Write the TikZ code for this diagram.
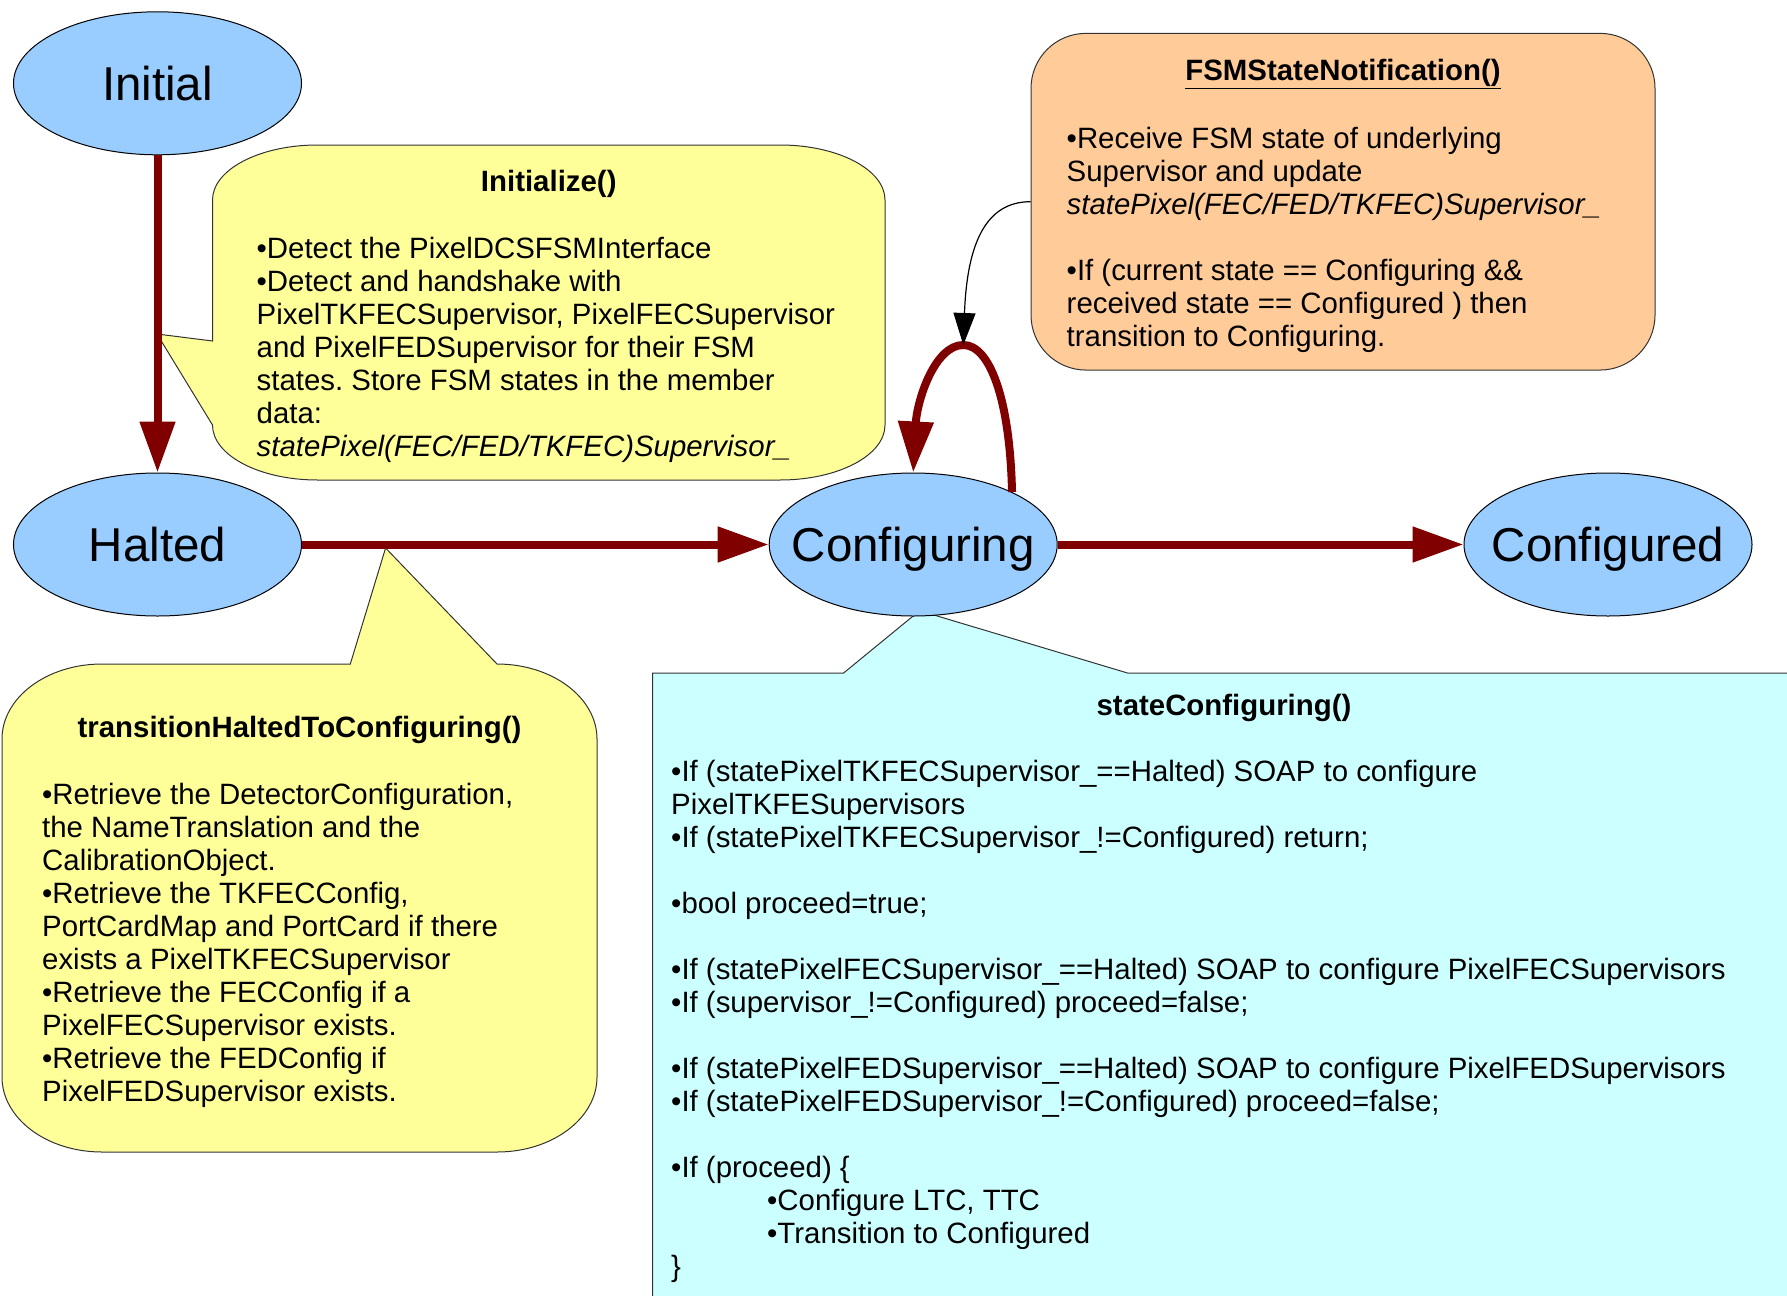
\documentclass[tikz,border=0pt]{standalone}
\usepackage{fontspec}
\setmainfont{Liberation Sans}[Ligatures=NoCommon]
\usetikzlibrary{shapes.geometric, arrows.meta}
\frenchspacing

\definecolor{stateblue}{HTML}{99CCFF}
\definecolor{noteyellow}{HTML}{FFFF99}
\definecolor{notepeach}{HTML}{FFCC99}
\definecolor{notecyan}{HTML}{CCFFFF}
\definecolor{transred}{HTML}{800000}

\newcommand{\bodysize}{\fontsize{29.4}{33}\selectfont}
\newcommand{\statesize}{\fontsize{47.5}{55}\selectfont}
\newcommand{\statename}[1]{\makebox[0pt]{\rule[-12pt]{0pt}{58pt}#1}}

\begin{document}
\begin{tikzpicture}[x=1pt, y=1pt,
    state/.style={ellipse, draw, line width=1pt, fill=stateblue, minimum width=288pt, minimum height=143pt, inner sep=0pt, font=\statesize},
    trans/.style={draw=transred, line width=8pt, -{Triangle[length=51pt,width=34pt]}},
    callout/.style={draw=black!80, line width=1pt},
    note/.style={draw=black, line width=1.2pt, -{Triangle[length=32pt,width=22pt]}},
    heading/.style={anchor=base, inner sep=0pt, font=\bodysize\bfseries},
    body/.style={anchor=north west, inner sep=0pt, align=left, font=\bodysize}]
    \useasboundingbox (0,0) rectangle (1787,-1295);

    % tips of the callouts
    \coordinate (tipinit) at (157,-334);
    \coordinate (tiptrans) at (385.6,-548);
    \coordinate (tipcfg) at (919.6,-610.7);
    \coordinate (looptop) at (963.3,-345);

    % callouts
    \draw[callout, fill=noteyellow] (212.5,-200) arc[start angle=180, end angle=90, x radius=105, y radius=55] -- (780,-145)
        arc[start angle=90, end angle=0, x radius=105, y radius=55] -- (885,-425)
        arc[start angle=0, end angle=-90, x radius=105, y radius=55] -- (317.5,-480)
        arc[start angle=270, end angle=180, x radius=105, y radius=55] -- (tipinit) -- (212.5,-341) -- cycle;
    \draw[callout, fill=noteyellow] (2,-739) arc[start angle=180, end angle=90, x radius=100, y radius=75] -- (350.3,-664) -- (tiptrans) -- (497,-664)
        arc[start angle=90, end angle=0, x radius=100, y radius=75] -- (597,-1077)
        arc[start angle=0, end angle=-90, x radius=100, y radius=75] -- (102,-1152)
        arc[start angle=270, end angle=180, x radius=100, y radius=75] -- cycle;
    \draw[callout, fill=notecyan] (652.5,-1310) -- (652.5,-673) -- (843.6,-673) -- (tipcfg) -- (1127.5,-673) -- (1800,-673) -- (1800,-1310) -- cycle;
    \node[callout, fill=notepeach, rounded corners=55pt, minimum width=624pt, minimum height=336.7pt] (notify) at (1343,-201.7) {};

    % states
    \node[state] (initial) at (157.5,-83.3) {\statename{Initial}};
    \node[state] (halted) at (157.5,-544.5) {\statename{Halted}};
    \node[state] (configuring) at (913.2,-544.5) {\statename{Configuring}};
    \node[state] (configured) at (1608,-544.5) {\statename{Configured}};

    % transitions
    \draw[trans] (initial) -- (halted);
    \draw[trans] (halted) -- (configuring);
    \draw[trans] (configuring) -- (configured);
    \draw[trans] (configuring.28) .. controls (1010,-400) and (990,-345) .. (looptop)
        .. controls (935,-345) and (917,-400) .. (configuring.north);

    % texts
    \node[heading] (initTitle) at (548.75,-191) {Initialize()};
    \node[body] (initBody) at (256.5,-237) {•Detect the PixelDCSFSMInterface\\
        •Detect and handshake with\\
        PixelTKFECSupervisor, PixelFECSupervisor\\
        and PixelFEDSupervisor for their FSM\\
        states. Store FSM states in the member\\
        data:\\
        \textit{statePixel(FEC/FED/TKFEC)Supervisor\_}};

    \node[heading] (notifyTitle) at (1343,-81) {\underline{FSMStateNotification()}};
    \node[body] (notifyBody) at (1066.5,-126.5) {•Receive FSM state of underlying\\
        Supervisor and update\\
        \textit{statePixel(FEC/FED/TKFEC)Supervisor\_}\\[33pt]
        •If (current state == Configuring \&\&\\
        received state == Configured ) then\\
        transition to Configuring.};

    \node[heading] (transTitle) at (299.5,-737) {transitionHaltedToConfiguring()};
    \node[body] (transBody) at (42,-783) {•Retrieve the DetectorConfiguration,\\
        the NameTranslation and the\\
        CalibrationObject.\\
        •Retrieve the TKFECConfig,\\
        PortCardMap and PortCard if there\\
        exists a PixelTKFECSupervisor\\
        •Retrieve the FECConfig if a\\
        PixelFECSupervisor exists.\\
        •Retrieve the FEDConfig if\\
        PixelFEDSupervisor exists.};

    \node[heading] (cfgTitle) at (1224,-715) {stateConfiguring()};
    \node[body] (cfgBody) at (671,-760) {•If (statePixelTKFECSupervisor\_==Halted) SOAP to configure\\
        PixelTKFESupervisors\\
        •If (statePixelTKFECSupervisor\_!=Configured) return;\\[33pt]
        •bool proceed=true;\\[33pt]
        •If (statePixelFECSupervisor\_==Halted) SOAP to configure PixelFECSupervisors\\
        •If (supervisor\_!=Configured) proceed=false;\\[33pt]
        •If (statePixelFEDSupervisor\_==Halted) SOAP to configure PixelFEDSupervisors\\
        •If (statePixelFEDSupervisor\_!=Configured) proceed=false;\\[33pt]
        •If (proceed) \{\\
        \hspace*{96pt}•Configure LTC, TTC\\
        \hspace*{96pt}•Transition to Configured\\
        \}};

    % notification
    \draw[note] (notify.west) .. controls (985,-201.7) and (967,-245) .. (looptop);
\end{tikzpicture}
\end{document}
